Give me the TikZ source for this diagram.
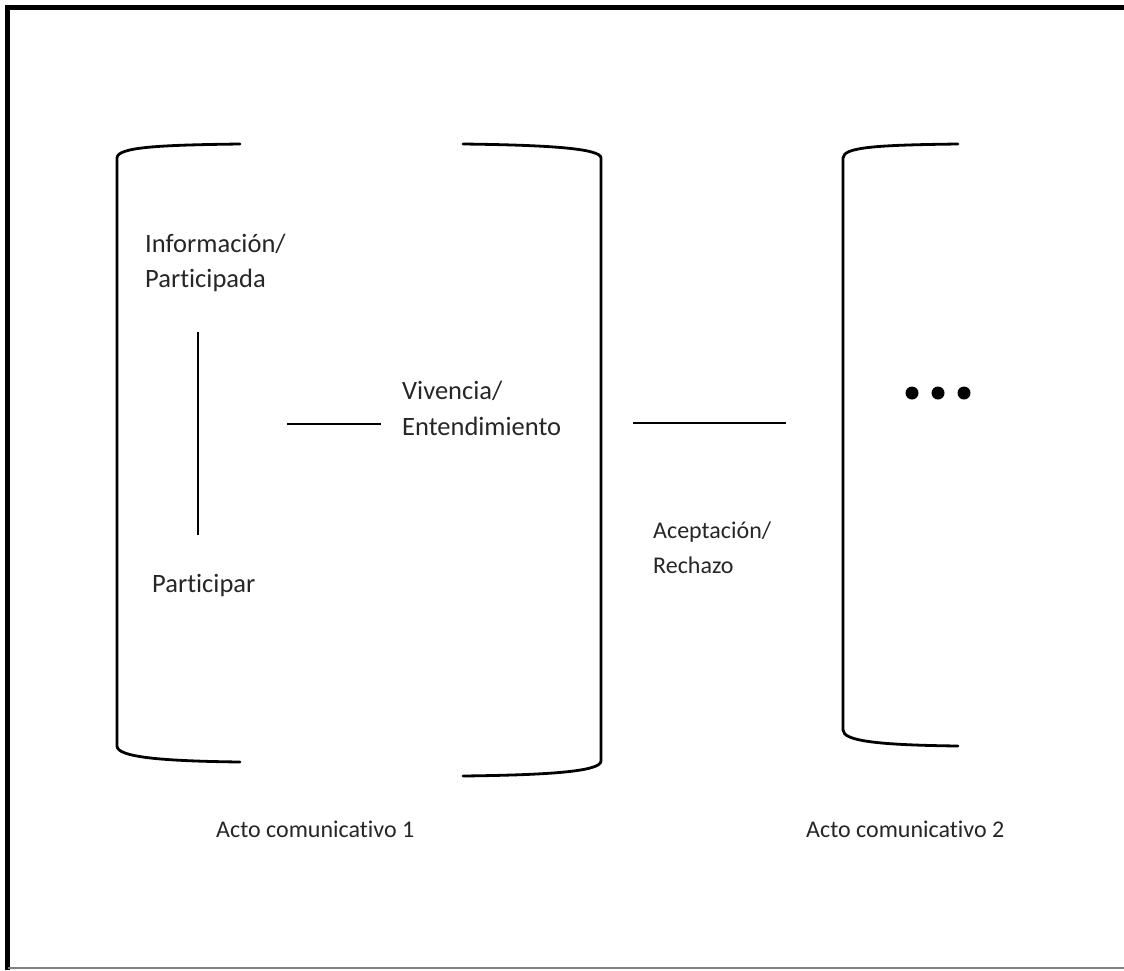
\documentclass[tikz,border=0pt]{standalone}
\usepackage{fontspec}
\setmainfont{Carlito}[Ligatures={NoCommon}]
\begin{document}
\begin{tikzpicture}[x=1pt,y=-1pt,
  lbl/.style={anchor=base west,inner sep=0pt,font=\fontsize{26.5}{35}\selectfont,text=black!85},
  small/.style={lbl,font=\fontsize{24}{32}\selectfont},
  brk/.style={line width=2.8pt,line cap=round,line join=round},
  link/.style={line width=2.6pt},
  dot/.style={circle,fill=black,inner sep=0pt,minimum size=13pt}]
\useasboundingbox (0,0) rectangle (1124,970);
\fill[white] (0,0) rectangle (1124,970);
% outer frame: heavy top and left rules, thin grey bottom rule
\draw[line width=5pt] (7.5,970) -- (7.5,7.5) -- (1124,7.5);
\draw[gray,line width=1.5pt] (7.5,968) -- (1124,968);

% bracket of the first communicative act (opening side)
\draw[brk] (240,144) .. controls (160,145) and (117,147) .. (117,158)
  -- (117,746) .. controls (117,757) and (160,761) .. (240,762);
% closing side
\draw[brk] (463,144) .. controls (543,145) and (601,148) .. (601,158)
  -- (601,761) .. controls (601,772) and (543,775) .. (463,776);
% bracket of the second communicative act
\draw[brk] (958,144) .. controls (878,145) and (843,147) .. (843,158)
  -- (843,730) .. controls (843,741) and (878,745) .. (958,746);

% texts
\node[lbl] (inf1) at (145,252) {Información/};
\node[lbl] (inf2) at (145,287) {Participada};
\node[lbl] (part) at (152,592) {Participar};
\node[lbl] (viv1) at (402,399) {Vivencia/};
\node[lbl] (viv2) at (402,435) {Entendimiento};
\node[small] (ace1) at (653,538) {Aceptación/};
\node[small] (ace2) at (653,573) {Rechazo};
\node[small] (acto1) at (216,837) {Acto comunicativo 1};
\node[small] (acto2) at (806,837) {Acto comunicativo 2};

% connecting strokes
\coordinate (v1) at (198,332);
\coordinate (v2) at (198,535);
\coordinate (h1a) at (287,424);
\coordinate (h1b) at (381,424);
\coordinate (h2a) at (633,423);
\coordinate (h2b) at (786,423);
\draw[link] (v1) -- (v2);
\draw[link] (h1a) -- (h1b);
\draw[link] (h2a) -- (h2b);

% ellipsis in the second act
\node[dot] (d1) at (912,393) {};
\node[dot] (d2) at (938,393) {};
\node[dot] (d3) at (964,393) {};
\end{tikzpicture}
\end{document}
